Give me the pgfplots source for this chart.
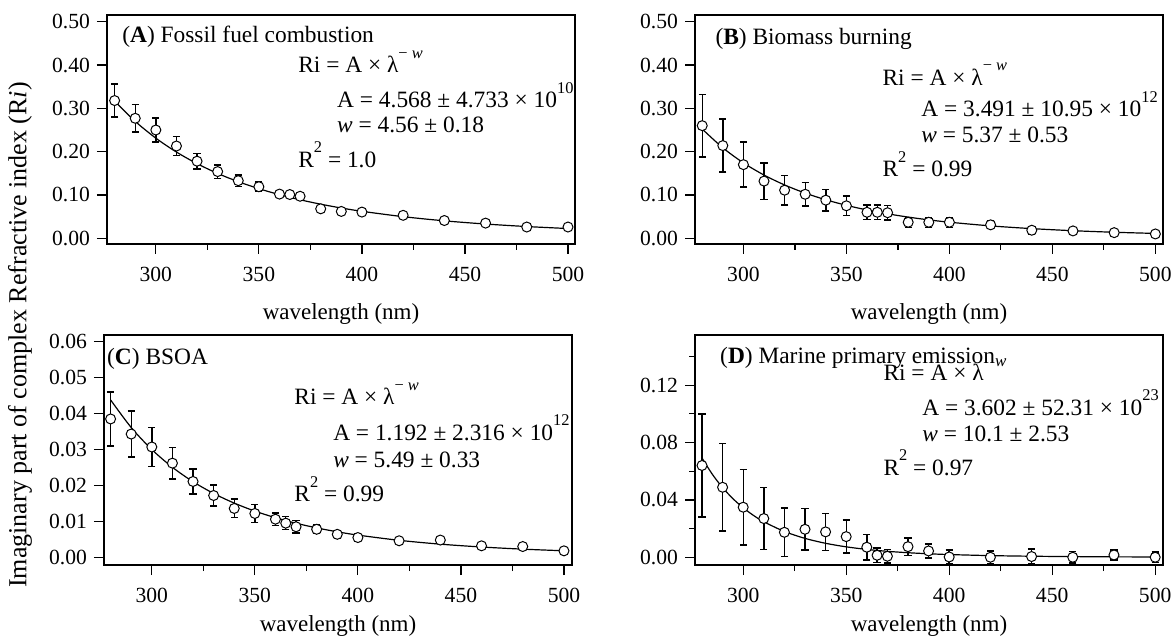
\documentclass[border=0pt]{standalone}
\usepackage{fontspec}
\setmainfont{Liberation Serif}
\usepackage{pgfplots}
\pgfplotsset{compat=1.18}
\newcommand\af{\fontsize{11.7}{13}\selectfont}
\newcommand\spx[1]{\raisebox{0.62em}{\fontsize{8.2}{9}\selectfont #1}}
\tikzset{ann/.style={anchor=base west, font=\af, inner sep=0pt}}
\pgfplotsset{
  panel/.style={
    scale only axis, width=234pt, anchor=north west,
    axis line style={line width=0.6pt},
    tick align=outside, xtick pos=left, ytick pos=left,
    major tick length=5pt, minor tick length=3pt,
    every tick/.style={black, line width=0.6pt},
    xtick={300,350,400,450,500}, minor xtick={325,375,425,475},
    tick label style={font=\fontsize{10.8}{12}\selectfont},
    /pgf/number format/assume math mode=true,
    scaled y ticks=false,
    yticklabel style={/pgf/number format/.cd, fixed, fixed zerofill, precision=2},
    xlabel={wavelength (nm)},
    label style={font=\fontsize{11.5}{13}\selectfont},
    xticklabel shift=3pt,
  },
  dat/.style={only marks, mark=*, mark size=2.5pt,
    mark options={fill=white, draw=black, line width=0.5pt},
    error bars/.cd, y dir=both, y explicit,
    error bar style={line width=0.7pt, black},
    error mark options={rotate=90, mark size=1.8pt, line width=0.7pt, black}},
  fit/.style={black, line width=0.6pt, smooth, no marks},
}
\begin{document}
\begin{tikzpicture}
\useasboundingbox (0,0) rectangle (586.5pt,319pt);
% ---------------- A
\begin{axis}[panel, at={(53.5pt,311.5pt)}, height=114.5pt,
  xmin=276.3, xmax=503.4, ymin=-0.0132, ymax=0.5155,
  ytick={0,0.1,0.2,0.3,0.4,0.5},
  xlabel style={at={(axis description cs:0.5,0)}, anchor=center, yshift=-35pt}]
\addplot[fit] coordinates {(280,0.3167)(290,0.2699)(300,0.2312)(310,0.1991)(320,0.1723)(330,0.1497)(340,0.1307)(350,0.1145)(360,0.1007)(370,0.0889)(380,0.0787)(390,0.0699)(400,0.0623)(420,0.0499)(440,0.0403)(460,0.0329)(480,0.0271)(500,0.0225)};
\addplot[dat] coordinates {
(280,0.318) +- (0,0.038)
(290,0.277) +- (0,0.032)
(300,0.250) +- (0,0.028)
(310,0.213) +- (0,0.022)
(320,0.178) +- (0,0.018)
(330,0.154) +- (0,0.0155)
(340,0.133) +- (0,0.013)
(350,0.119) +- (0,0.0105)
(360,0.102) +- (0,0.007)
(365,0.101) +- (0,0.006)
(370,0.097) +- (0,0.005)
(380,0.068) +- (0,0.003)
(390,0.062) +- (0,0.003)
(400,0.0605) +- (0,0.003)
(420,0.053) +- (0,0.002)
(440,0.041) +- (0,0.002)
(460,0.035) +- (0,0.002)
(480,0.026) +- (0,0.002)
(500,0.026) +- (0,0.002)};
\node[ann] at (rel axis cs:0.032,0.878) {(\textbf{A}) Fossil fuel combustion};
\node[ann] at (rel axis cs:0.408,0.747) {Ri = A × λ\spx{− \textit{w}}};
\node[ann] at (rel axis cs:0.491,0.594) {A = 4.568 ± 4.733 × 10\spx{10}};
\node[ann] at (rel axis cs:0.491,0.485) {\textit{w} = 4.56 ± 0.18};
\node[ann] at (rel axis cs:0.408,0.336) {R\spx{2} = 1.0};
\end{axis}
% ---------------- B
\begin{axis}[panel, at={(347.5pt,311.5pt)}, height=114.5pt,
  xmin=276.5, xmax=503.7, ymin=-0.0132, ymax=0.5155,
  ytick={0,0.1,0.2,0.3,0.4,0.5},
  xlabel style={at={(axis description cs:0.5,0)}, anchor=center, yshift=-35pt}]
\addplot[fit] coordinates {(280,0.2522)(290,0.2089)(300,0.1741)(310,0.1460)(320,0.1231)(330,0.1043)(340,0.0889)(350,0.0761)(360,0.0654)(370,0.0565)(380,0.0489)(390,0.0425)(400,0.0371)(420,0.0286)(440,0.0223)(460,0.0175)(480,0.0139)(500,0.0112)};
\addplot[dat] coordinates {
(280,0.260) +- (0,0.072)
(290,0.214) +- (0,0.061)
(300,0.170) +- (0,0.052)
(310,0.132) +- (0,0.042)
(320,0.111) +- (0,0.034)
(330,0.1016) +- (0,0.0275)
(340,0.088) +- (0,0.025)
(350,0.075) +- (0,0.023)
(360,0.060) +- (0,0.017)
(365,0.060) +- (0,0.017)
(370,0.059) +- (0,0.017)
(380,0.037) +- (0,0.0115)
(390,0.037) +- (0,0.0115)
(400,0.037) +- (0,0.0115)
(420,0.031) +- (0,0.009)
(440,0.0186) +- (0,0.009)
(460,0.017) +- (0,0.008)
(480,0.013) +- (0,0.007)
(500,0.010) +- (0,0.003)};
\node[ann] at (rel axis cs:0.043,0.869) {(\textbf{B}) Biomass burning};
\node[ann] at (rel axis cs:0.400,0.694) {Ri = A × λ\spx{− \textit{w}}};
\node[ann] at (rel axis cs:0.483,0.555) {A = 3.491 ± 10.95 × 10\spx{12}};
\node[ann] at (rel axis cs:0.483,0.445) {\textit{w} = 5.37 ± 0.53};
\node[ann] at (rel axis cs:0.400,0.293) {R\spx{2} = 0.99};
\end{axis}
% ---------------- C
\begin{axis}[panel, at={(52pt,151.5pt)}, height=115pt,
  xmin=276.8, xmax=503.9, ymin=-0.00214, ymax=0.06186,
  ytick={0,0.01,0.02,0.03,0.04,0.05,0.06},
  xlabel style={at={(axis description cs:0.5,0)}, anchor=center, yshift=-30.5pt}]
\addplot[fit] coordinates {(280,0.04380)(290,0.03612)(300,0.02999)(310,0.02505)(320,0.02104)(330,0.01777)(340,0.01508)(350,0.01286)(360,0.01102)(370,0.00948)(380,0.00819)(390,0.00710)(400,0.00618)(420,0.00473)(440,0.00366)(460,0.00287)(480,0.00227)(500,0.00182)};
\addplot[dat] coordinates {
(280,0.0385) +- (0,0.0075)
(290,0.0343) +- (0,0.0064)
(300,0.0307) +- (0,0.0054)
(310,0.0262) +- (0,0.0044)
(320,0.0211) +- (0,0.0035)
(330,0.0172) +- (0,0.0029)
(340,0.0136) +- (0,0.0026)
(350,0.0122) +- (0,0.0025)
(360,0.0106) +- (0,0.0017)
(365,0.0095) +- (0,0.0018)
(370,0.0085) +- (0,0.0017)
(380,0.0078) +- (0,0.0012)
(390,0.0064) +- (0,0.0010)
(400,0.0055) +- (0,0.0010)
(420,0.0046) +- (0,0.0008)
(440,0.0048) +- (0,0.0010)
(460,0.0032) +- (0,0.0006)
(480,0.0030) +- (0,0.0006)
(500,0.0018) +- (0,0.0004)};
\node[ann] at (rel axis cs:0.006,0.870) {(\textbf{C}) BSOA};
\node[ann] at (rel axis cs:0.406,0.696) {Ri = A × λ\spx{− \textit{w}}};
\node[ann] at (rel axis cs:0.489,0.543) {A = 1.192 ± 2.316 × 10\spx{12}};
\node[ann] at (rel axis cs:0.489,0.426) {\textit{w} = 5.49 ± 0.33};
\node[ann] at (rel axis cs:0.406,0.274) {R\spx{2} = 0.99};
\end{axis}
% ---------------- D
\begin{axis}[panel, at={(347.5pt,151.5pt)}, height=115pt,
  xmin=276.6, xmax=503.8, ymin=-0.0054, ymax=0.155,
  ytick={0,0.04,0.08,0.12}, minor ytick={0.02,0.06,0.10,0.14},
  xlabel style={at={(axis description cs:0.5,0)}, anchor=center, yshift=-30.5pt}]
\addplot[fit] coordinates {(280,0.06922)(285,0.05789)(290,0.04857)(295,0.04087)(300,0.03449)(305,0.02918)(310,0.02477)(320,0.01797)(330,0.01317)(340,0.00974)(350,0.00727)(360,0.00547)(370,0.00415)(380,0.00317)(390,0.00244)(400,0.00189)(420,0.00115)(440,0.00072)(460,0.00046)(480,0.00030)(500,0.00020)};
\addplot[dat] coordinates {
(280,0.064) +- (0,0.036)
(290,0.0488) +- (0,0.0305)
(300,0.0349) +- (0,0.0263)
(310,0.027) +- (0,0.0215)
(320,0.0174) +- (0,0.017)
(330,0.0195) +- (0,0.0143)
(340,0.0177) +- (0,0.0128)
(350,0.0144) +- (0,0.0115)
(360,0.007) +- (0,0.0088)
(365,0.0014) +- (0,0.0051)
(370,0.0007) +- (0,0.0047)
(380,0.0074) +- (0,0.0061)
(390,0.0044) +- (0,0.0049)
(400,0.0002) +- (0,0.0048)
(420,0.0000) +- (0,0.0044)
(440,0.0005) +- (0,0.0052)
(460,0.0000) +- (0,0.0040)
(480,0.0016) +- (0,0.0035)
(500,0.0000) +- (0,0.0037)};
\node[ann] at (rel axis cs:0.053,0.878) {(\textbf{D}) Marine primary emission\raisebox{-1.5pt}{\fontsize{8.5}{9}\selectfont\textit{w}}};
\node[ann] at (rel axis cs:0.402,0.804) {Ri = A × λ};
\node[ann] at (rel axis cs:0.485,0.652) {A = 3.602 ± 52.31 × 10\spx{23}};
\node[ann] at (rel axis cs:0.485,0.539) {\textit{w} = 10.1 ± 2.53};
\node[ann] at (rel axis cs:0.402,0.391) {R\spx{2} = 0.97};
\end{axis}
\node[rotate=90, font=\fontsize{13}{15}\selectfont] at (10pt,151.5pt) {Imaginary part of complex Refractive index (R\textit{i})};
\end{tikzpicture}
\end{document}
